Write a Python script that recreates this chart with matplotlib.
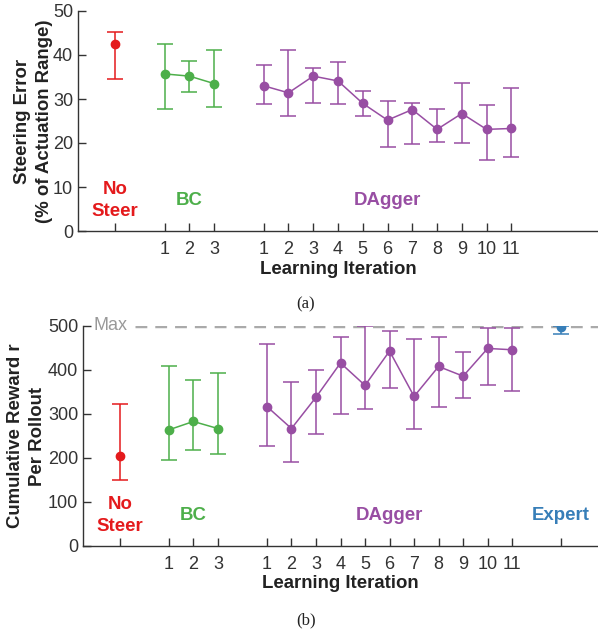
"""
Steering error and cumulative reward per learning iteration (No Steer / BC / DAgger / Expert).
"""

import numpy as np
import matplotlib
matplotlib.use('Agg')
import matplotlib.pyplot as plt

plt.rcParams['font.family'] = ['Liberation Sans', 'DejaVu Sans']

# colours
red = '#E41A1C'
green = '#4DAF4A'
purple = '#984EA3'
blue = '#377EB8'

# x positions of the groups
nosteer_x = [1]
bc_x = [3, 4, 5]
dagger_x = list(range(7, 18))
expert_x = [19]
bc_ticklabels = ['1', '2', '3']
dagger_ticklabels = [str(i) for i in range(1, 12)]

# (a) steering error: mean, lower end, upper end
nosteer_err = [42.6]
nosteer_err_lo = [34.5]
nosteer_err_hi = [45.3]
bc_err = [35.7, 35.2, 33.5]
bc_err_lo = [27.7, 31.6, 28.2]
bc_err_hi = [42.6, 38.6, 41.2]
dagger_err = [33.0, 31.4, 35.2, 34.1, 29.0, 25.2, 27.6, 23.1, 26.7, 23.1, 23.3]
dagger_err_lo = [28.9, 26.1, 29.1, 28.9, 26.2, 19.1, 19.8, 20.3, 19.9, 16.1, 16.9]
dagger_err_hi = [37.8, 41.2, 37.0, 38.3, 31.9, 29.5, 29.1, 27.8, 33.7, 28.6, 32.4]

# (b) cumulative reward: mean, lower end, upper end
nosteer_rew = [204]
nosteer_rew_lo = [151]
nosteer_rew_hi = [323]
bc_rew = [264, 283, 267]
bc_rew_lo = [195, 218, 210]
bc_rew_hi = [408, 377, 393]
dagger_rew = [317, 267, 338, 416, 365, 443, 340, 408, 386, 449, 446]
dagger_rew_lo = [227, 191, 255, 299, 311, 359, 267, 316, 337, 366, 352]
dagger_rew_hi = [460, 372, 399, 476, 499, 489, 471, 474, 442, 496, 496]
expert_rew = [498]
expert_rew_lo = [482]
expert_rew_hi = [500]
max_reward = 500

bold_size = 13.4


def group(ax, x, y, lo, hi, color, connect=True):
    y = np.array(y)
    yerr = [y - np.array(lo), np.array(hi) - y]
    ax.errorbar(x, y, yerr=yerr, color=color, marker='o', markersize=6,
                linewidth=1.1 if connect else 0, elinewidth=1.1, capsize=6,
                capthick=1.1, linestyle='-' if connect else 'none', zorder=3)


def style(ax):
    for s in ['top', 'right']:
        ax.spines[s].set_visible(False)
    for s in ['left', 'bottom']:
        ax.spines[s].set_color('#333333')
        ax.spines[s].set_linewidth(1.0)
    ax.tick_params(direction='in', length=6, width=1.0, colors='#333333',
                   labelsize=13, labelcolor='#333333')
    ax.tick_params(axis='x', pad=7)
    ax.set_xlim(-0.5, 20.5)
    ax.set_xlabel('Learning Iteration', fontsize=bold_size, fontweight='bold',
                  color='#222222', labelpad=2)


def group_labels(ax, y, names):
    for x, text, color in names:
        ax.text(x, y, text, color=color, fontsize=bold_size, fontweight='bold',
                ha='center', va='center', linespacing=1.4)


fig = plt.figure(figsize=(5.98, 6.34), dpi=100)

# ---- (a) ----
ax1 = fig.add_axes([78 / 598, 1 - 231 / 634, 520 / 598, 220 / 634])
group(ax1, nosteer_x, nosteer_err, nosteer_err_lo, nosteer_err_hi, red, connect=False)
group(ax1, bc_x, bc_err, bc_err_lo, bc_err_hi, green)
group(ax1, dagger_x, dagger_err, dagger_err_lo, dagger_err_hi, purple)
ax1.set_ylim(0, 50)
ax1.set_yticks([0, 10, 20, 30, 40, 50])
ax1.set_xticks(nosteer_x + bc_x + dagger_x)
ax1.set_xticklabels([''] + bc_ticklabels + dagger_ticklabels)
style(ax1)
ax1.set_ylabel('Steering Error\n(% of Actuation Range)', fontsize=bold_size,
               fontweight='bold', color='#222222', linespacing=1.4, labelpad=0)
group_labels(ax1, 7, [(1, 'No\nSteer', red), (4, 'BC', green), (12, 'DAgger', purple)])

# ---- (b) ----
ax2 = fig.add_axes([83 / 598, 1 - 546 / 634, 515 / 598, 220 / 634])
ax2.axhline(max_reward, xmin=(1.6 + 0.5) / 21, xmax=1, color='#AAAAAA',
            linestyle=(0, (3.4, 2.3)), linewidth=2.5, zorder=1)
ax2.text(0.62, max_reward, 'Max', color='#999999', fontsize=13, ha='center', va='center')
group(ax2, nosteer_x, nosteer_rew, nosteer_rew_lo, nosteer_rew_hi, red, connect=False)
group(ax2, bc_x, bc_rew, bc_rew_lo, bc_rew_hi, green)
group(ax2, dagger_x, dagger_rew, dagger_rew_lo, dagger_rew_hi, purple)
group(ax2, expert_x, expert_rew, expert_rew_lo, expert_rew_hi, blue, connect=False)
ax2.set_ylim(0, 500)
ax2.set_yticks([0, 100, 200, 300, 400, 500])
ax2.set_xticks(nosteer_x + bc_x + dagger_x + expert_x)
ax2.set_xticklabels([''] + bc_ticklabels + dagger_ticklabels + [''])
style(ax2)
ax2.set_ylabel('Cumulative Reward r\nPer Rollout', fontsize=bold_size,
               fontweight='bold', color='#222222', linespacing=1.4, labelpad=1)
group_labels(ax2, 70, [(1, 'No\nSteer', red), (4, 'BC', green), (12, 'DAgger', purple),
                       (19, 'Expert', blue)])

# captions
fig.text(306 / 598, 1 - 304 / 634, '(a)', family='Liberation Serif', fontsize=12,
         ha='center', va='center', color='#222222')
fig.text(306 / 598, 1 - 620 / 634, '(b)', family='Liberation Serif', fontsize=12,
         ha='center', va='center', color='#222222')

plt.savefig('out.png', dpi=100)
